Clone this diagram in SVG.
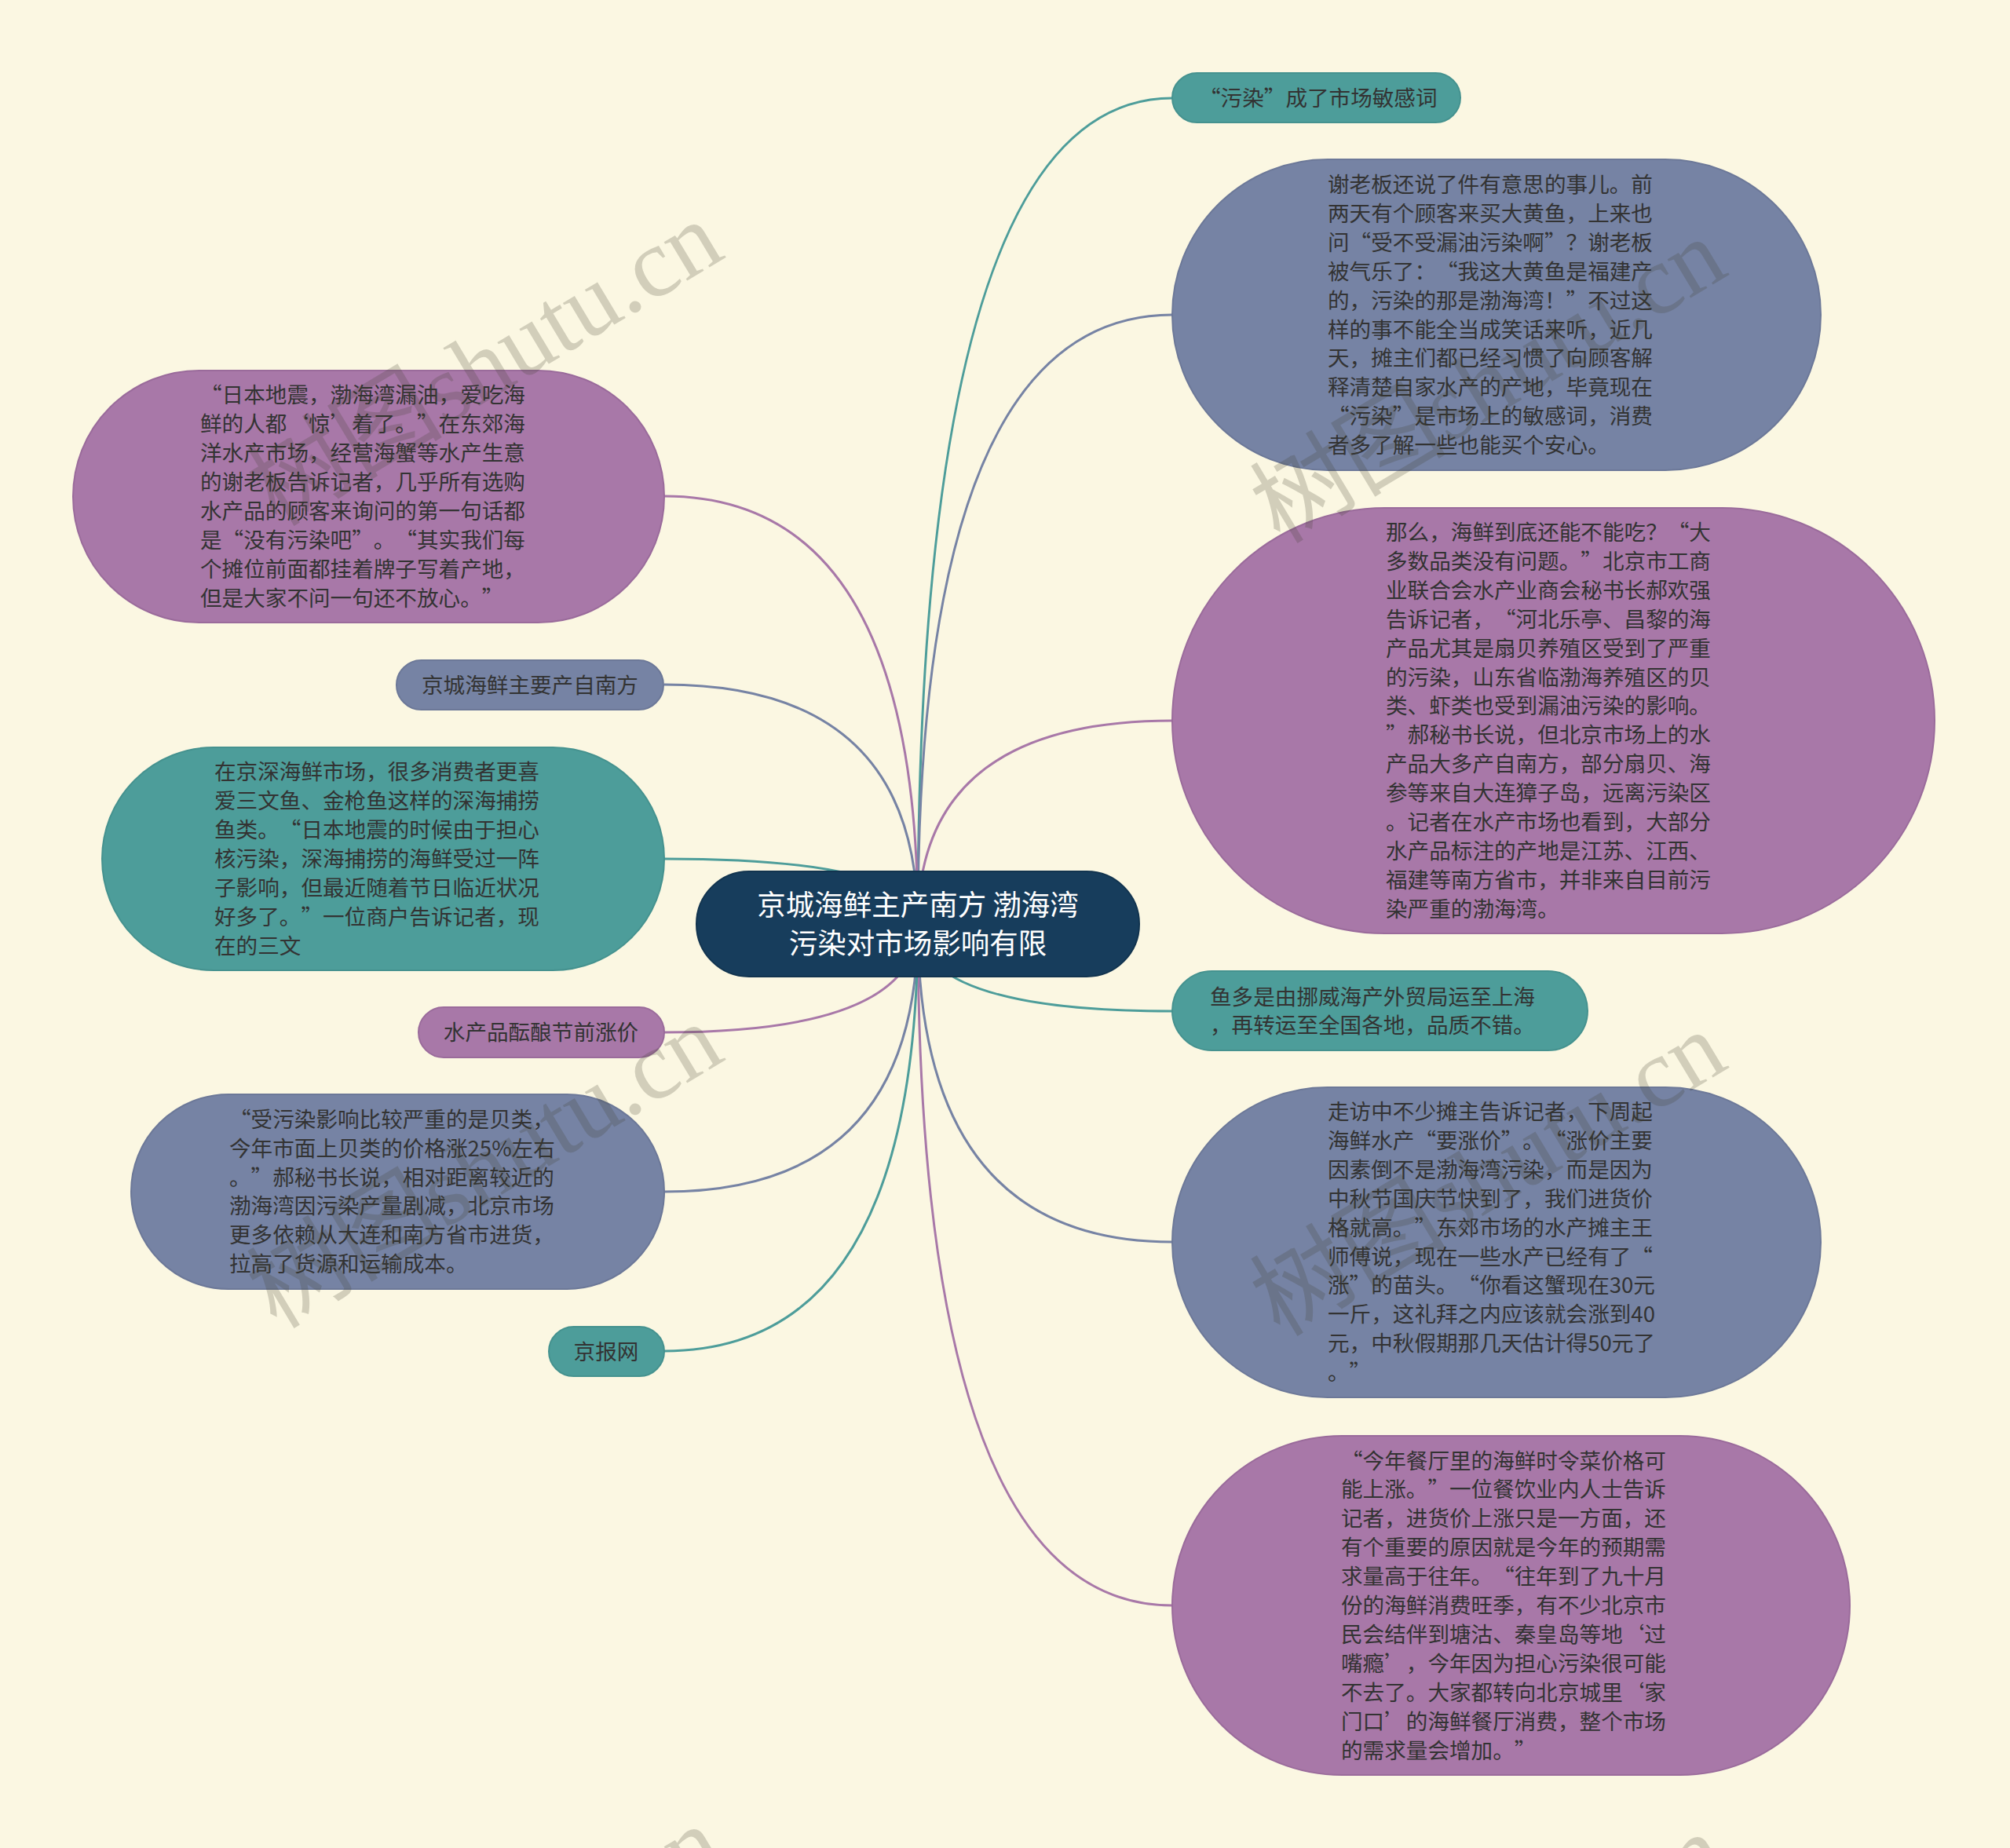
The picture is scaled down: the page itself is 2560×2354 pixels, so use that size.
<svg xmlns="http://www.w3.org/2000/svg" width="2560" height="2354" viewBox="0 0 2560 2354">
<style>
.bg{fill:#FBF7E2}
.teal{fill:#4D9D9A;stroke:#45928F;stroke-width:2}
.slate{fill:#7683A4;stroke:#6C7898;stroke-width:2}
.purple{fill:#A878A8;stroke:#9A6B9B;stroke-width:2}
.core{fill:#173D5C;stroke:#12344F;stroke-width:2}
.t{font-family:"Noto Sans CJK SC","Liberation Sans",sans-serif;font-size:27.6px;fill:#333333;text-spacing-trim:space-all}
.tc{font-family:"Noto Sans CJK SC","Liberation Sans",sans-serif;font-size:36.5px;fill:#FFFFFF;text-anchor:middle}
.m{text-anchor:middle}
.c{fill:none;stroke-width:3}
.ct{stroke:#4D9D9A}.cs{stroke:#7683A4}.cp{stroke:#A878A8}
.wm{font-family:"Liberation Serif","Noto Sans CJK SC",serif;font-size:125px;fill:#3E3E2E;fill-opacity:0.22}
</style>
<rect class="bg" x="0" y="0" width="2560" height="2354"/>
<g id="connectors">
<path class="c ct" d="M1169 1177 Q1169 125 1493 125"/>
<path class="c cs" d="M1169 1177 Q1169 401 1493 401"/>
<path class="c cp" d="M1169 1177 Q1169 918 1493 918"/>
<path class="c ct" d="M1169 1177 Q1169 1288 1493 1288"/>
<path class="c cs" d="M1169 1177 Q1169 1582 1493 1582"/>
<path class="c cp" d="M1169 1177 Q1169 2045 1493 2045"/>
<path class="c cp" d="M1169 1177 Q1169 632 846 632"/>
<path class="c cs" d="M1169 1177 Q1169 872 846 872"/>
<path class="c ct" d="M1169 1177 Q1169 1094 846 1094"/>
<path class="c cp" d="M1169 1177 Q1169 1315 846 1315"/>
<path class="c cs" d="M1169 1177 Q1169 1518 846 1518"/>
<path class="c ct" d="M1169 1177 Q1169 1721 846 1721"/>
</g>
<g id="center">
<rect class="core" x="887" y="1110" width="564" height="134" rx="67"/>
<text class="tc" x="1169" y="1166">京城海鲜主产南方 渤海湾</text>
<text class="tc" x="1169" y="1215">污染对市场影响有限</text>
</g>
<g id="n1">
<rect class="teal" x="1493" y="93" width="367" height="63" rx="31.5"/>
<text class="t" x="1527" y="134.5">“污染”成了市场敏感词</text>
</g>
<g id="n2">
<rect class="slate" x="1493" y="203" width="826" height="396" rx="198"/>
<text class="t" y="245"><tspan x="1691">谢老板还说了件有意思的事儿。前</tspan><tspan x="1691" dy="36.9">两天有个顾客来买大黄鱼，上来也</tspan><tspan x="1691" dy="36.9">问“受不受漏油污染啊”？谢老板</tspan><tspan x="1691" dy="36.9">被气乐了：“我这大黄鱼是福建产</tspan><tspan x="1691" dy="36.9">的，污染的那是渤海湾！”不过这</tspan><tspan x="1691" dy="36.9">样的事不能全当成笑话来听，近几</tspan><tspan x="1691" dy="36.9">天，摊主们都已经习惯了向顾客解</tspan><tspan x="1691" dy="36.9">释清楚自家水产的产地，毕竟现在</tspan><tspan x="1691" dy="36.9">“污染”是市场上的敏感词，消费</tspan><tspan x="1691" dy="36.9">者多了解一些也能买个安心。</tspan></text>
</g>
<g id="n3">
<rect class="purple" x="1493" y="647" width="971" height="542" rx="271"/>
<text class="t" y="688"><tspan x="1765">那么，海鲜到底还能不能吃？“大</tspan><tspan x="1765" dy="36.9">多数品类没有问题。”北京市工商</tspan><tspan x="1765" dy="36.9">业联合会水产业商会秘书长郝欢强</tspan><tspan x="1765" dy="36.9">告诉记者，“河北乐亭、昌黎的海</tspan><tspan x="1765" dy="36.9">产品尤其是扇贝养殖区受到了严重</tspan><tspan x="1765" dy="36.9">的污染，山东省临渤海养殖区的贝</tspan><tspan x="1765" dy="36.9">类、虾类也受到漏油污染的影响。</tspan><tspan x="1765" dy="36.9">”郝秘书长说，但北京市场上的水</tspan><tspan x="1765" dy="36.9">产品大多产自南方，部分扇贝、海</tspan><tspan x="1765" dy="36.9">参等来自大连獐子岛，远离污染区</tspan><tspan x="1765" dy="36.9">。记者在水产市场也看到，大部分</tspan><tspan x="1765" dy="36.9">水产品标注的产地是江苏、江西、</tspan><tspan x="1765" dy="36.9">福建等南方省市，并非来自目前污</tspan><tspan x="1765" dy="36.9">染严重的渤海湾。</tspan></text>
</g>
<g id="n4">
<rect class="teal" x="1493" y="1237" width="529" height="101" rx="50.5"/>
<text class="t" y="1279.5"><tspan x="1541">鱼多是由挪威海产外贸局运至上海</tspan><tspan x="1541" dy="36.9">，再转运至全国各地，品质不错。</tspan></text>
</g>
<g id="n5">
<rect class="slate" x="1493" y="1385" width="826" height="395" rx="197.5"/>
<text class="t" y="1426"><tspan x="1691">走访中不少摊主告诉记者，下周起</tspan><tspan x="1691" dy="36.9">海鲜水产“要涨价”。“涨价主要</tspan><tspan x="1691" dy="36.9">因素倒不是渤海湾污染，而是因为</tspan><tspan x="1691" dy="36.9">中秋节国庆节快到了，我们进货价</tspan><tspan x="1691" dy="36.9">格就高。”东郊市场的水产摊主王</tspan><tspan x="1691" dy="36.9">师傅说，现在一些水产已经有了“</tspan><tspan x="1691" dy="36.9">涨”的苗头。“你看这蟹现在30元</tspan><tspan x="1691" dy="36.9">一斤，这礼拜之内应该就会涨到40</tspan><tspan x="1691" dy="36.9">元，中秋假期那几天估计得50元了</tspan><tspan x="1691" dy="36.9">。”</tspan></text>
</g>
<g id="n6">
<rect class="purple" x="1493" y="1829" width="863" height="432" rx="216"/>
<text class="t" y="1870.5"><tspan x="1708">“今年餐厅里的海鲜时令菜价格可</tspan><tspan x="1708" dy="36.9">能上涨。”一位餐饮业内人士告诉</tspan><tspan x="1708" dy="36.9">记者，进货价上涨只是一方面，还</tspan><tspan x="1708" dy="36.9">有个重要的原因就是今年的预期需</tspan><tspan x="1708" dy="36.9">求量高于往年。“往年到了九十月</tspan><tspan x="1708" dy="36.9">份的海鲜消费旺季，有不少北京市</tspan><tspan x="1708" dy="36.9">民会结伴到塘沽、秦皇岛等地‘过</tspan><tspan x="1708" dy="36.9">嘴瘾’，今年因为担心污染很可能</tspan><tspan x="1708" dy="36.9">不去了。大家都转向北京城里‘家</tspan><tspan x="1708" dy="36.9">门口’的海鲜餐厅消费，整个市场</tspan><tspan x="1708" dy="36.9">的需求量会增加。”</tspan></text>
</g>
<g id="n7">
<rect class="purple" x="93" y="472" width="753" height="321" rx="160.5"/>
<text class="t" y="513.4"><tspan x="255">“日本地震，渤海湾漏油，爱吃海</tspan><tspan x="255" dy="36.9">鲜的人都‘惊’着了。”在东郊海</tspan><tspan x="255" dy="36.9">洋水产市场，经营海蟹等水产生意</tspan><tspan x="255" dy="36.9">的谢老板告诉记者，几乎所有选购</tspan><tspan x="255" dy="36.9">水产品的顾客来询问的第一句话都</tspan><tspan x="255" dy="36.9">是“没有污染吧”。“其实我们每</tspan><tspan x="255" dy="36.9">个摊位前面都挂着牌子写着产地，</tspan><tspan x="255" dy="36.9">但是大家不问一句还不放心。”</tspan></text>
</g>
<g id="n8">
<rect class="slate" x="505" y="841" width="340" height="63" rx="31.5"/>
<text class="t m" x="675" y="882.5">京城海鲜主要产自南方</text>
</g>
<g id="n9">
<rect class="teal" x="130" y="952" width="716" height="284" rx="142"/>
<text class="t" y="993.3"><tspan x="273">在京深海鲜市场，很多消费者更喜</tspan><tspan x="273" dy="36.9">爱三文鱼、金枪鱼这样的深海捕捞</tspan><tspan x="273" dy="36.9">鱼类。“日本地震的时候由于担心</tspan><tspan x="273" dy="36.9">核污染，深海捕捞的海鲜受过一阵</tspan><tspan x="273" dy="36.9">子影响，但最近随着节日临近状况</tspan><tspan x="273" dy="36.9">好多了。”一位商户告诉记者，现</tspan><tspan x="273" dy="36.9">在的三文</tspan></text>
</g>
<g id="n10">
<rect class="purple" x="533" y="1283" width="313" height="64" rx="32"/>
<text class="t m" x="689" y="1325">水产品酝酿节前涨价</text>
</g>
<g id="n11">
<rect class="slate" x="167" y="1394" width="679" height="248" rx="124"/>
<text class="t" y="1435.75"><tspan x="292">“受污染影响比较严重的是贝类，</tspan><tspan x="292" dy="36.9">今年市面上贝类的价格涨25%左右</tspan><tspan x="292" dy="36.9">。”郝秘书长说，相对距离较近的</tspan><tspan x="292" dy="36.9">渤海湾因污染产量剧减，北京市场</tspan><tspan x="292" dy="36.9">更多依赖从大连和南方省市进货，</tspan><tspan x="292" dy="36.9">拉高了货源和运输成本。</tspan></text>
</g>
<g id="n12">
<rect class="teal" x="699" y="1690" width="147" height="63" rx="31.5"/>
<text class="t m" x="772" y="1731.5">京报网</text>
</g>
<g id="watermarks">
<text class="wm" transform="translate(352 672) rotate(-31)">树图shutu.cn</text>
<text class="wm" transform="translate(1630 694) rotate(-31)">树图shutu.cn</text>
<text class="wm" transform="translate(352 1694) rotate(-31)">树图shutu.cn</text>
<text class="wm" transform="translate(1630 1704) rotate(-31)">树图shutu.cn</text>
<text class="wm" transform="translate(352 2716) rotate(-31)">树图shutu.cn</text>
<text class="wm" transform="translate(1630 2726) rotate(-31)">树图shutu.cn</text>
</g>
</svg>
